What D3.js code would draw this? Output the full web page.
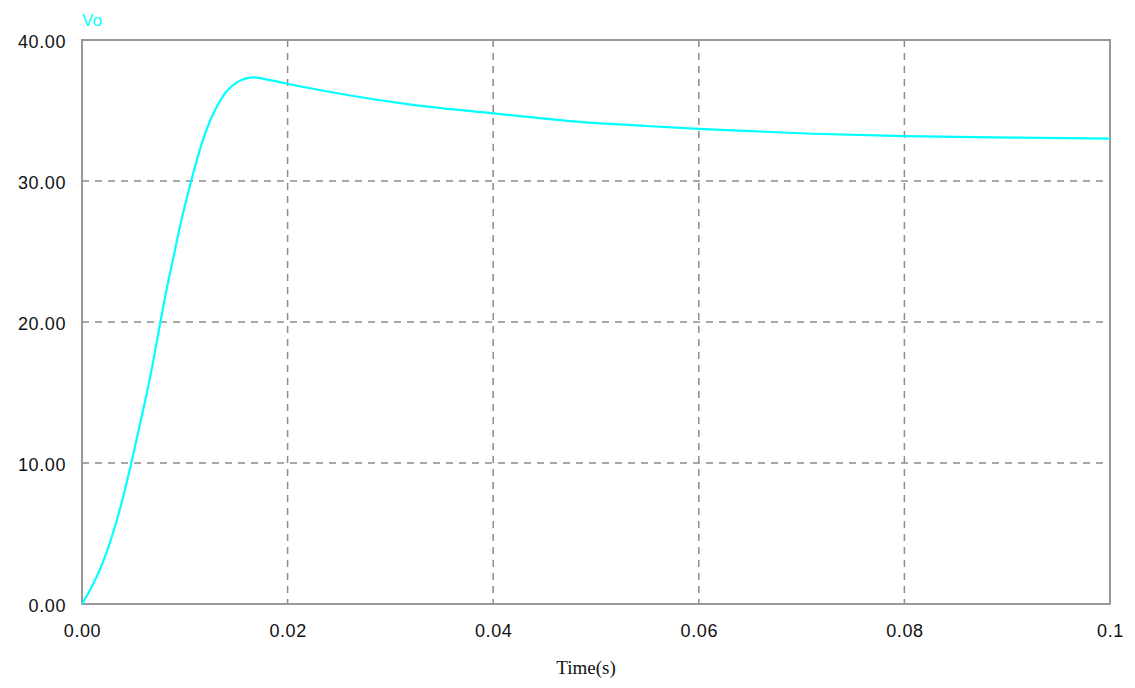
<!DOCTYPE html>
<html>
<head>
<meta charset="utf-8">
<style>
    body { margin: 0; background: #fff; }
    svg { display: block; }
    .tick text { font-family: "Liberation Sans", Arial, sans-serif; font-size: 18px; fill: #111; letter-spacing: 0.6px; }
</style>
</head>
<body>
<script src="https://d3js.org/d3.v7.min.js"></script>
<script>
    const width = 1135
    const height = 688
    const plot = { left: 82, right: 1110, top: 40, bottom: 604 }

    // Vo (V) against time (s)
    const time = [0, 0.0010, 0.0020, 0.0030, 0.0039, 0.0047, 0.0055, 0.0062, 0.0069, 0.0075, 0.0082, 0.0089,
        0.0096, 0.0103, 0.0108, 0.0115, 0.0122, 0.0130, 0.0140, 0.0152, 0.0167, 0.0183,
        0.0200, 0.0258, 0.0322, 0.0400, 0.0484, 0.0549, 0.0600, 0.0646, 0.0711, 0.0800, 0.0906, 0.1000]
    const vo = [0, 1.3, 2.9, 5.0, 7.3, 9.7, 12.3, 14.6, 17.1, 19.5, 22.2, 24.6,
        27.0, 29.1, 30.5, 32.3, 33.8, 35.1, 36.3, 37.05, 37.35, 37.15,
        36.9, 36.1, 35.4, 34.8, 34.2, 33.9, 33.7, 33.55, 33.35, 33.18, 33.08, 33.0]

    const xTicks = [0, 0.02, 0.04, 0.06, 0.08, 0.1]
    const xTickLabels = ["0.00", "0.02", "0.04", "0.06", "0.08", "0.1"]
    const yTicks = [0, 10, 20, 30, 40]
    const yTickLabels = ["0.00", "10.00", "20.00", "30.00", "40.00"]

    const svg = d3.select("body").append("svg").attr("width", width).attr("height", height)

    const x = d3.scaleLinear().domain([0, 0.1]).range([plot.left, plot.right])
    const y = d3.scaleLinear().domain([0, 40]).range([plot.bottom, plot.top])

    // dashed grid
    const grid = svg.append("g").attr("stroke", "#8c8c8c").attr("stroke-width", 1.5).attr("stroke-dasharray", "7,6")
    grid.selectAll(".gx")
        .data(xTicks.slice(1, -1))
        .enter()
        .append("line")
        .attr("x1", d => x(d)).attr("x2", d => x(d))
        .attr("y1", plot.top).attr("y2", plot.bottom)
    grid.selectAll(".gy")
        .data(yTicks.slice(1, -1))
        .enter()
        .append("line")
        .attr("x1", plot.left).attr("x2", plot.right)
        .attr("y1", d => y(d)).attr("y2", d => y(d))

    // frame
    svg.append("rect")
        .attr("x", plot.left).attr("y", plot.top)
        .attr("width", plot.right - plot.left).attr("height", plot.bottom - plot.top)
        .attr("fill", "none").attr("stroke", "#999").attr("stroke-width", 2)

    const xAxis = svg.append("g")
        .attr("transform", "translate(0," + plot.bottom + ")")
        .call(d3.axisBottom(x).tickValues(xTicks).tickFormat((d, i) => xTickLabels[i]).tickSize(0).tickPadding(20))
    xAxis.select(".domain").remove()

    const yAxis = svg.append("g")
        .attr("transform", "translate(" + plot.left + ",0)")
        .call(d3.axisLeft(y).tickValues(yTicks).tickFormat((d, i) => yTickLabels[i]).tickSize(0).tickPadding(16))
    yAxis.select(".domain").remove()
    yAxis.selectAll("text").attr("dy", "0.42em")

    // trace
    const line = d3.line()
        .x((d, i) => x(time[i]))
        .y(d => y(d))
        .curve(d3.curveMonotoneX)

    svg.append("path")
        .datum(vo)
        .attr("fill", "none")
        .attr("stroke", "#00ffff")
        .attr("stroke-width", 2.2)
        .attr("d", line)

    svg.append("text")
        .attr("x", plot.left)
        .attr("y", 26)
        .attr("fill", "#00ffff")
        .style("font-family", "'Liberation Sans', Arial, sans-serif")
        .style("font-size", "17px")
        .text("Vo")

    svg.append("text")
        .attr("x", 586)
        .attr("y", 674)
        .attr("text-anchor", "middle")
        .attr("fill", "#111")
        .style("font-family", "'Liberation Serif', 'Times New Roman', serif")
        .style("font-size", "19px")
        .text("Time(s)")
</script>
</body>
</html>
